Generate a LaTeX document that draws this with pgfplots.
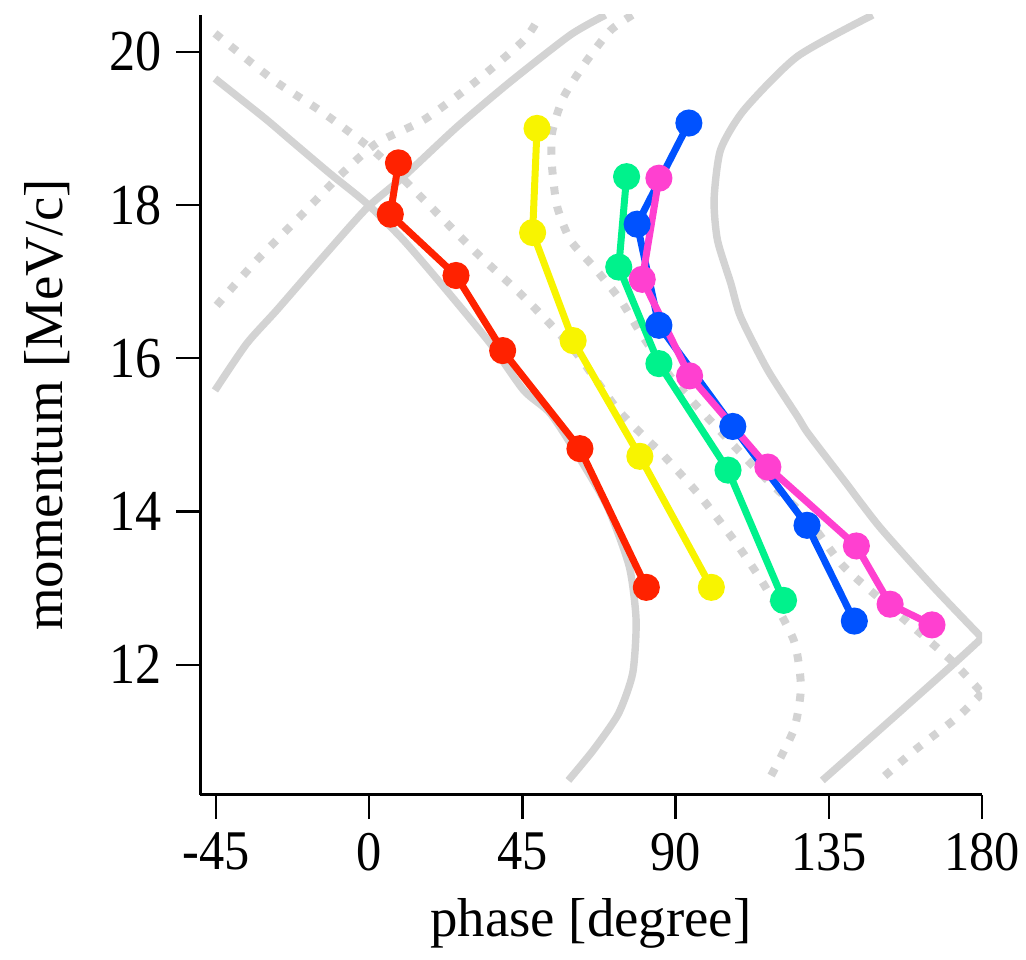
\documentclass[border=0pt]{standalone}
\usepackage{fontspec}
\setmainfont{Liberation Serif}
\newfontfamily\xnum[FakeStretch=0.9]{Liberation Serif}
\newfontfamily\ynum[FakeStretch=0.9]{Liberation Serif}
\usepackage{pgfplots}
\pgfplotsset{compat=1.18}
\definecolor{cred}{RGB}{255,34,0}
\definecolor{cyel}{RGB}{248,244,0}
\definecolor{cgrn}{RGB}{0,242,140}
\definecolor{cblu}{RGB}{0,82,255}
\definecolor{cpnk}{RGB}{255,64,208}
\definecolor{cgray}{RGB}{211,211,211}
\begin{document}
\begin{tikzpicture}
\begin{axis}[
  scale only axis, width=195.5pt, height=195pt,
  xmin=-49.7, xmax=180, ymin=10.3, ymax=20.48,
  axis lines*=left, axis line style={line width=0.75pt, -},
  tick align=outside, major tick length=6pt, tick style={line width=0.6pt, black},
  xtick={-45,0,45,90,135,180}, ytick={12,14,16,18,20},
  /pgf/number format/assume math mode=true,
  xticklabel style={font=\xnum\fontsize{14}{16}\selectfont},
  yticklabel style={font=\ynum\fontsize{14.5}{16}\selectfont},
  xlabel={phase [degree]}, ylabel={momentum [MeV/c]},
  label style={font=\fontsize{13.7}{16}\selectfont},
  ylabel style={yshift=3pt},
  gs/.style={cgray, line width=1.85pt, no markers, smooth, tension=0.4},
  gd/.style={cgray, line width=2pt, no markers, smooth, tension=0.4, dash pattern=on 2pt off 3pt},
  cl/.style={#1, line width=1.75pt, mark=*, mark size=2.5pt, mark options={solid, fill=#1, draw=#1}},
]
\coordinate (ll) at (rel axis cs:0,0);
\coordinate (ur) at (rel axis cs:1,1);
% solid gray S1
\addplot[gs] coordinates {(-45.3,19.65) (-30.6,19.13) (-23.2,18.85) (-11.5,18.41) (-0.7,18.02) (10.1,17.54) (21.9,16.93) (35.6,16.19) (45.4,15.58) (53.2,15.28) (61.6,14.71) (70.0,14.06) (76.4,13.28) (78.4,12.58) (77.4,11.89) (73.2,11.36) (65.9,10.89) (58.5,10.49)};
% solid gray S2
\addplot[gs] coordinates {(-45.3,15.58) (-36.0,16.19) (-27.1,16.63) (-13.4,17.33) (-0.7,17.96) (10.1,18.37) (25.8,19.02) (41.5,19.61) (59.1,20.22) (69.4,20.48)};
% solid gray S3
\addplot[gs] coordinates {(147.9,20.48) (125.8,19.94) (110.1,19.24) (103.2,18.72) (101.3,18.07) (102.3,17.54) (106.2,16.98) (109.1,16.54) (117.0,15.85) (125.8,15.24) (128.9,15.02) (139.4,14.41) (149.9,13.80) (165.6,13.02) (180,12.35)};
\addplot[gs] coordinates {(180,12.35) (171.9,12.02) (149.9,11.15) (133.1,10.49)};
% dashed gray D1
\addplot[gd] coordinates {(-44.8,16.69) (-33.0,17.28) (-20.3,17.85) (-8.5,18.39) (2.3,18.81) (16.0,19.11) (30.7,19.59) (45.4,20.15) (50.3,20.48)};
% dashed gray D2
\addplot[gd] coordinates {(-45.3,20.24) (-28.1,19.63) (-13.4,19.20) (2.3,18.67) (16.0,18.07) (30.7,17.41) (45.4,16.80) (60.1,16.11) (73.2,15.32) (86.9,14.71) (97.4,14.19) (107.9,13.58) (116.3,13.02) (124.7,12.32) (126.8,11.71) (124.7,11.15) (117.3,10.49)};
% dashed gray D3
\addplot[gd] coordinates {(77.3,20.48) (70.9,20.28) (64.0,19.89) (57.1,19.41) (53.7,18.94) (53.7,18.50) (55.2,17.98) (59.1,17.54) (66.0,17.19) (73.8,16.76) (79.7,16.33) (88.5,15.76) (97.4,15.32) (113.1,14.58) (128.9,13.89) (139.4,13.28) (155.1,12.67) (170.9,12.06) (180,11.63)};
\addplot[gd] coordinates {(180,11.63) (172.9,11.32) (160.4,10.89) (149.9,10.49)};
% data
\addplot[cl=cred] coordinates {(8.6,18.55) (6.2,17.88) (25.5,17.08) (39.2,16.10) (61.9,14.82) (81.4,13.01)};
\addplot[cl=cyel] coordinates {(49.3,19.00) (48.0,17.64) (59.9,16.23) (79.5,14.72) (100.5,13.01)};
\addplot[cl=cgrn] coordinates {(75.6,18.37) (73.3,17.19) (85.1,15.93) (105.4,14.54) (121.7,12.84)};
\addplot[cl=cblu] coordinates {(93.9,19.07) (78.7,17.75) (85.1,16.43) (106.8,15.11) (128.6,13.82) (142.5,12.57)};
\addplot[cl=cpnk] coordinates {(85.1,18.35) (80.2,17.03) (94.1,15.77) (117.1,14.58) (143.1,13.55) (153.0,12.79) (165.3,12.52)};
\end{axis}
\pgfresetboundingbox
\path[use as bounding box] ([xshift=-50pt,yshift=-41.25pt]ll) rectangle ([xshift=11pt,yshift=3.75pt]ur);
\end{tikzpicture}
\end{document}
